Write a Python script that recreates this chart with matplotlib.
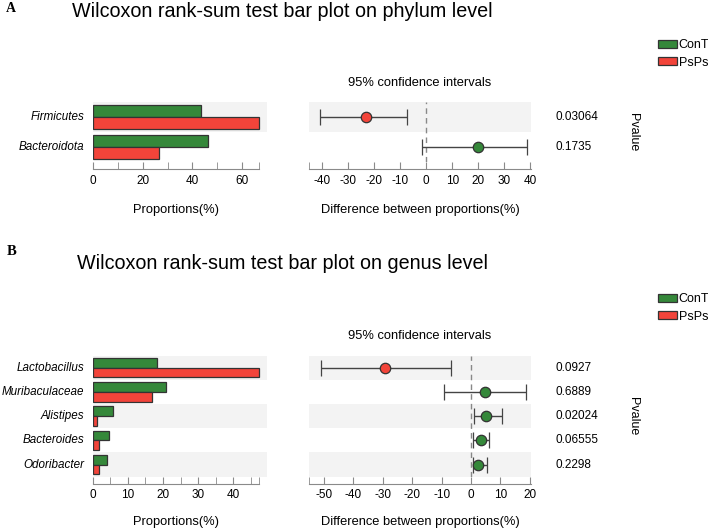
import matplotlib

matplotlib.use("Agg")
import matplotlib.pyplot as plt
from matplotlib.patches import Patch

plt.rcParams["font.family"] = ["Liberation Sans", "DejaVu Sans"]
plt.rcParams["axes.unicode_minus"] = False

# panel A: phylum level
phylum_taxa = ["Firmicutes", "Bacteroidota"]
phylum_cont = [43.6, 46.3]
phylum_psps = [66.7, 26.7]
phylum_diff = [-23.0, 19.8]
phylum_ci_low = [-40.5, -1.7]
phylum_ci_high = [-7.4, 38.5]
phylum_pvalues = ["0.03064", "0.1735"]

# panel B: genus level
genus_taxa = ["Lactobacillus", "Muribaculaceae", "Alistipes", "Bacteroides", "Odoribacter"]
genus_cont = [18.4, 21.0, 5.9, 4.7, 4.0]
genus_psps = [47.4, 16.8, 1.3, 1.7, 1.9]
genus_diff = [-29.3, 4.8, 5.0, 3.4, 2.3]
genus_ci_low = [-51.1, -9.2, 1.1, 0.8, 0.6]
genus_ci_high = [-6.8, 18.6, 10.4, 6.1, 5.3]
genus_pvalues = ["0.0927", "0.6889", "0.02024", "0.06555", "0.2298"]

GREEN = "#35883a"
RED = "#f2443a"
BAND = "#f3f3f3"
AXCOL = "#8a8a8a"

W, H = 708, 529
fig = plt.figure(figsize=(W / 100, H / 100), dpi=100)


def px_axes(x0, y0, x1, y1):
    return fig.add_axes([x0 / W, 1 - y1 / H, (x1 - x0) / W, (y1 - y0) / H])


def style_axis(ax, lo, hi, major, minor):
    for s in ["top", "right", "left"]:
        ax.spines[s].set_visible(False)
    ax.spines["bottom"].set_position(("outward", 5))
    ax.spines["bottom"].set_bounds(lo, hi)
    ax.spines["bottom"].set_color(AXCOL)
    ax.set_xticks(major)
    ax.set_xticks(minor, minor=True)
    ax.tick_params(axis="x", which="both", direction="in", length=5, color=AXCOL,
                   labelsize=8.5, pad=4)
    ax.set_yticks([])


def draw_panel(taxa, cont, psps, diff, lo, hi, pvals, top, row_h, bar_xmax,
               bar_major, bar_minor, ci_xlim, ci_major, ci_minor, label_gap):
    n = len(taxa)
    bottom = top + n * row_h
    rows = list(range(n))

    # proportions bars
    ax = px_axes(92.7, top, 267.3, bottom)
    ax.set_xlim(0, bar_xmax)
    ax.set_ylim(n - 0.5, -0.5)
    for i in rows:
        if i % 2 == 0:
            ax.axhspan(i - 0.5, i + 0.5, color=BAND, lw=0, zorder=0)
    h = 0.4
    ax.barh([r - h / 2 for r in rows], cont, height=h, color=GREEN, edgecolor="#333333", lw=0.9, zorder=2)
    ax.barh([r + h / 2 for r in rows], psps, height=h, color=RED, edgecolor="#333333", lw=0.9, zorder=2)
    vmax = max(max(cont), max(psps))
    style_axis(ax, 0, vmax, bar_major, bar_minor + [vmax])
    for i, t in enumerate(taxa):
        ax.text(-8.5 / (174.6 / bar_xmax), i, t, ha="right", va="center", style="italic", fontsize=8.4)
    fig.text((92.7 + 92.7 + vmax * 174.6 / bar_xmax) / 2 / W, 1 - (bottom + label_gap) / H,
             "Proportions(%)", ha="center", va="center", fontsize=9.25)

    # confidence intervals
    ax2 = px_axes(309, top, 530.7, bottom)
    ax2.set_xlim(*ci_xlim)
    ax2.set_ylim(n - 0.5, -0.5)
    for i in rows:
        if i % 2 == 0:
            ax2.axhspan(i - 0.5, i + 0.5, color=BAND, lw=0, zorder=0)
    ax2.axvline(0, color="#888888", lw=1, ls=(0, (4, 3)), zorder=1)
    for i in rows:
        col = RED if diff[i] < 0 else GREEN
        ax2.errorbar(diff[i], i, xerr=[[diff[i] - lo[i]], [hi[i] - diff[i]]], fmt="o",
                     color="#444444", ecolor="#444444", elinewidth=1, capsize=5.5,
                     capthick=1, ms=7.5, mfc=col, mec="#333333", mew=0.9, zorder=3)
    style_axis(ax2, ci_xlim[0], ci_xlim[1], ci_major, ci_minor + [ci_xlim[0]])
    ax2.text(0.5, 1 + 19.5 / (bottom - top), "95% confidence intervals",
             transform=ax2.transAxes, ha="center", va="center", fontsize=9.25)
    fig.text(420 / W, 1 - (bottom + label_gap) / H, "Difference between proportions(%)",
             ha="center", va="center", fontsize=9.25)
    for i, p in enumerate(pvals):
        ax2.text((556 - 309) / (530.7 - 309), i, p, transform=ax2.get_yaxis_transform(),
                 ha="left", va="center", fontsize=8.5)
    fig.text(633 / W, 1 - (top + n * row_h / 2) / H, "Pvalue", rotation=270,
             ha="center", va="center", fontsize=9)


def legend(y_top):
    handles = [Patch(facecolor=GREEN, edgecolor="#333333", lw=0.9),
               Patch(facecolor=RED, edgecolor="#333333", lw=0.9)]
    fig.legend(handles, ["ConT", "PsPs"], loc="upper left",
               bbox_to_anchor=(658 / W, 1 - y_top / H), frameon=False, fontsize=9,
               handlelength=1.5, handleheight=0.6, handletextpad=0.15, labelspacing=0.45,
               borderaxespad=0, borderpad=0)


# panel A
fig.text(6 / W, 1 - 12 / H, "A", fontsize=10, fontweight="bold", family="Liberation Serif")
fig.text(72.5 / W, 1 - 16.7 / H, "Wilcoxon rank-sum test bar plot on phylum level",
         fontsize=14.25, va="baseline")
legend(39)
draw_panel(phylum_taxa, phylum_cont, phylum_psps, phylum_diff, phylum_ci_low,
           phylum_ci_high, phylum_pvalues, top=102, row_h=30, bar_xmax=70,
           bar_major=[0, 20, 40, 60], bar_minor=[10, 30, 50],
           ci_xlim=(-44.9, 40.1), ci_major=[-40, -30, -20, -10, 0, 10, 20, 30, 40], ci_minor=[],
           label_gap=48)

# panel B
fig.text(6.5 / W, 1 - 255 / H, "B", fontsize=10.5, fontweight="bold", family="Liberation Serif")
fig.text(77 / W, 1 - 269.3 / H, "Wilcoxon rank-sum test bar plot on genus level",
         fontsize=14.25, va="baseline")
legend(293)
draw_panel(genus_taxa, genus_cont, genus_psps, genus_diff, genus_ci_low,
           genus_ci_high, genus_pvalues, top=355.6, row_h=24.2, bar_xmax=49.7,
           bar_major=[0, 10, 20, 30, 40], bar_minor=[5, 15, 25, 35, 45],
           ci_xlim=(-55.1, 20.3), ci_major=[-50, -40, -30, -20, -10, 0, 10, 20], ci_minor=[],
           label_gap=45)

fig.savefig("out.png", dpi=100)
